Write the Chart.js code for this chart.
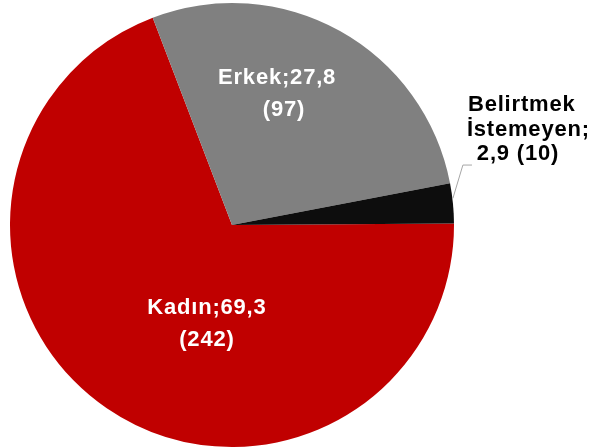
<!DOCTYPE html>
<html>
<head>
<meta charset="utf-8">
<script src="https://cdn.jsdelivr.net/npm/chart.js@4.4.1/dist/chart.umd.min.js"></script>
<style>
  html, body { margin: 0; padding: 0; background: #fff; }
  #wrap { width: 593px; height: 448px; position: relative; }
</style>
</head>
<body>
<div id="wrap"><canvas id="pieChart"></canvas></div>
<script>
// categories and values (percent) with respondent counts
const categories = ['Kadın', 'Erkek', 'Belirtmek İstemeyen'];
const percents = [69.3, 27.8, 2.9];
const counts = [242, 97, 10];
const sliceColors = ['#C00000', '#808080', '#0D0D0D'];

const fmt = v => v.toFixed(1).replace('.', ',');

// labels: drawn relative to pie centre / radius
const labelPlugin = {
    id: 'sliceLabels',
    afterDatasetsDraw(chart) {
        const ctx = chart.ctx;
        const arc = chart.getDatasetMeta(0).data[0];
        const cx = arc.x, cy = arc.y, r = arc.outerRadius;
        ctx.save();
        ctx.font = 'bold 22px "Liberation Sans", Arial, sans-serif';
        ctx.letterSpacing = '0.8px';
        ctx.textAlign = 'center';
        ctx.textBaseline = 'middle';

        // Kadın
        ctx.fillStyle = '#ffffff';
        ctx.fillText(categories[0] + ';' + fmt(percents[0]), cx - 0.113 * r, cy + 0.374 * r);
        ctx.fillText('(' + counts[0] + ')', cx - 0.113 * r, cy + 0.518 * r);

        // Erkek
        ctx.fillText(categories[1] + ';' + fmt(percents[1]), cx + 0.203 * r, cy - 0.664 * r);
        ctx.fillText('(' + counts[1] + ')', cx + 0.234 * r, cy - 0.52 * r);

        // Belirtmek İstemeyen (outside, with leader line)
        ctx.strokeStyle = '#a6a6a6';
        ctx.lineWidth = 1;
        ctx.beginPath();
        ctx.moveTo(cx + 1.081 * r, cy - 0.27 * r);
        ctx.lineTo(cx + 1.04 * r, cy - 0.27 * r);
        ctx.lineTo(cx + 0.995 * r, cy - 0.12 * r);
        ctx.stroke();

        ctx.fillStyle = '#000000';
        ctx.textAlign = 'left';
        const words = categories[2].split(' ');
        ctx.fillText(words[0], cx + 1.063 * r, cy - 0.543 * r);
        ctx.fillText(words[1] + ';', cx + 1.058 * r, cy - 0.43 * r);
        ctx.fillText(fmt(percents[2]) + ' (' + counts[2] + ')', cx + 1.103 * r, cy - 0.318 * r);
        ctx.restore();
    }
};

new Chart(document.getElementById('pieChart'), {
    type: 'pie',
    data: {
        labels: categories,
        datasets: [{
            data: percents,
            backgroundColor: sliceColors,
            borderWidth: 0
        }]
    },
    options: {
        responsive: true,
        maintainAspectRatio: false,
        animation: false,
        rotation: 89.6,
        layout: { padding: { left: 10, right: 139, top: 3, bottom: 1 } },
        plugins: {
            legend: { display: false },
            tooltip: { enabled: false }
        }
    },
    plugins: [labelPlugin]
});
</script>
</body>
</html>
